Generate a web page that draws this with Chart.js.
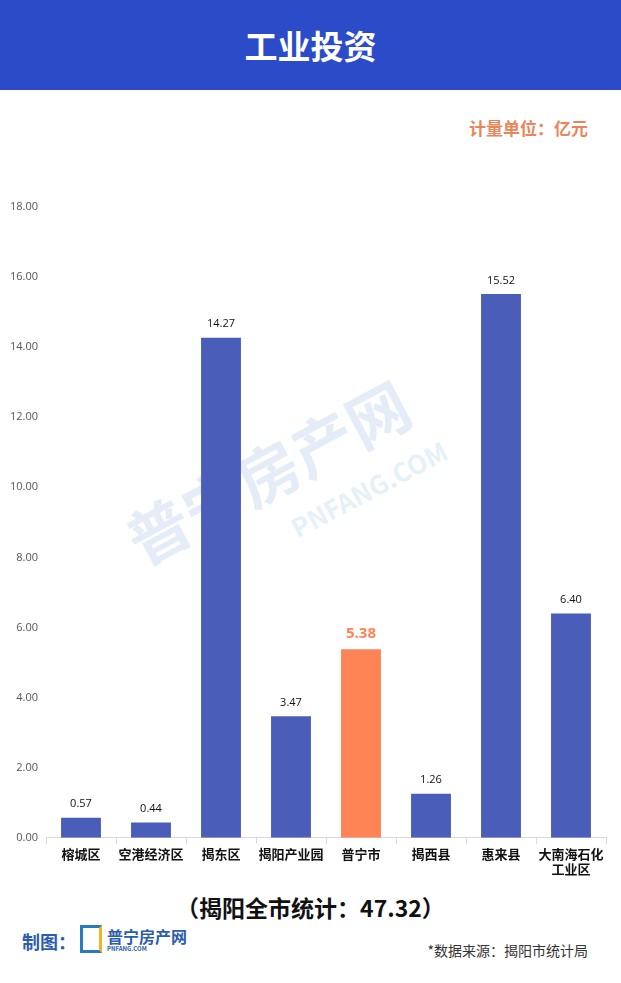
<!DOCTYPE html>
<html>
<head>
<meta charset="utf-8">
<script src="https://cdn.jsdelivr.net/npm/chart.js@4"></script>
<style>
  body { margin: 0; width: 621px; height: 983px; background: #fff; position: relative; overflow: hidden;
         font-family: "Noto Sans CJK SC", "Noto Sans", sans-serif; }
  #head { position: absolute; left: 0; top: 0; width: 621px; height: 90px; background: #2b4bc8;
          color: #fff; font-size: 33px; font-weight: bold; text-align: center; line-height: 90px; }
  #unit { position: absolute; right: 33px; top: 115px; color: #e8855a; font-size: 17px; font-weight: bold; }
  #box { position: absolute; left: 0; top: 194px; width: 621px; height: 685px; }
  #mark { position: absolute; left: 120px; top: 420px; transform: rotate(-28deg); opacity: 0.12;
          color: #2b6fc0; font-size: 62px; font-weight: bold; pointer-events: none; white-space: nowrap; }
  #mark small { display: block; font-size: 26px; margin-left: 150px; color: #2b8fd0; }
  #total { position: absolute; left: 0; width: 621px; top: 890px; text-align: center; font-size: 23px; font-weight: bold; color: #111; }
  #maker { position: absolute; left: 22px; top: 928px; color: #2b5cae; font-size: 18px; font-weight: bold; }
  #logo { position: absolute; left: 80px; top: 925px; width: 22px; height: 28px; border: 3px solid #2a7ac0;
          border-right-color: #f2b51c; box-sizing: border-box; }
  #logoText { position: absolute; left: 107px; top: 924px; color: #2b5cae; font-size: 16px; font-weight: bold; }
  #logoText small { display: block; font-size: 6px; color: #2b5cae; margin-top: -4px; }
  #src { position: absolute; right: 33px; top: 940px; color: #333; font-size: 14px; }
</style>
</head>
<body>
<div id="head">工业投资</div>
<div id="unit">计量单位：亿元</div>
<div id="mark">普宁房产网<small>PNFANG.COM</small></div>
<div id="box"><canvas id="myChart"></canvas></div>
<div id="total">（揭阳全市统计：47.32）</div>
<div id="maker">制图：</div>
<div id="logo"></div>
<div id="logoText">普宁房产网<small>PNFANG.COM</small></div>
<div id="src">*数据来源：揭阳市统计局</div>

<script>
// data
let areaNames = ['榕城区', '空港经济区', '揭东区', '揭阳产业园', '普宁市', '揭西县', '惠来县', ['大南海石化', '工业区']];
let investValues = [0.57, 0.44, 14.27, 3.47, 5.38, 1.26, 15.52, 6.40];
let yTicks = [0, 2, 4, 6, 8, 10, 12, 14, 16, 18];
let highlightIndex = 4;

let blueColor = '#4a5eb9';
let orangeColor = '#fe8456';

let barColors = [];
for (let i = 0; i < investValues.length; i++) {
  barColors.push(i === highlightIndex ? orangeColor : blueColor);
}

// value labels above the bars
const valueLabels = {
  id: 'valueLabels',
  afterDatasetsDraw(chart) {
    const ctx = chart.ctx;
    const meta = chart.getDatasetMeta(0);
    ctx.save();
    ctx.textAlign = 'center';
    ctx.textBaseline = 'bottom';
    meta.data.forEach(function (bar, i) {
      if (i === highlightIndex) {
        ctx.fillStyle = orangeColor;
        ctx.font = 'bold 15px "Open Sans", "Noto Sans", sans-serif';
        ctx.fillText(investValues[i].toFixed(2), bar.x, bar.y - 8);
      } else {
        ctx.fillStyle = '#111';
        ctx.font = '11px "Open Sans", "Noto Sans", sans-serif';
        ctx.fillText(investValues[i].toFixed(2), bar.x, bar.y - 8);
      }
    });
    ctx.restore();
  }
};

const config = {
  type: 'bar',
  data: {
    labels: areaNames,
    datasets: [{
      data: investValues,
      backgroundColor: barColors,
      barPercentage: 0.57,
      categoryPercentage: 1
    }]
  },
  options: {
    responsive: true,
    maintainAspectRatio: false,
    animation: false,
    layout: { padding: { top: 13, right: 15, left: 0, bottom: 0 } },
    plugins: { legend: { display: false }, tooltip: { enabled: false } },
    scales: {
      x: {
        grid: { display: true, drawOnChartArea: false, color: '#d9d9d9', tickLength: 6, offset: true },
        border: { display: true, color: '#d9d9d9' },
        ticks: {
          color: '#111',
          font: { size: 13, weight: 'bold', family: '"Noto Sans CJK SC", sans-serif' },
          maxRotation: 0,
          autoSkip: false,
          padding: 2
        }
      },
      y: {
        min: 0,
        max: 18,
        afterBuildTicks(axis) { axis.ticks = yTicks.map(v => ({ value: v })); },
        afterFit(axis) { axis.width = 46; },
        grid: { display: false },
        border: { display: false },
        ticks: {
          color: '#555',
          font: { size: 11, family: '"Open Sans", "Noto Sans", sans-serif' },
          padding: 0,
          callback: v => Number(v).toFixed(2)
        }
      }
    }
  },
  plugins: [valueLabels]
};

const myChart = new Chart(document.getElementById('myChart'), config);
</script>
</body>
</html>
